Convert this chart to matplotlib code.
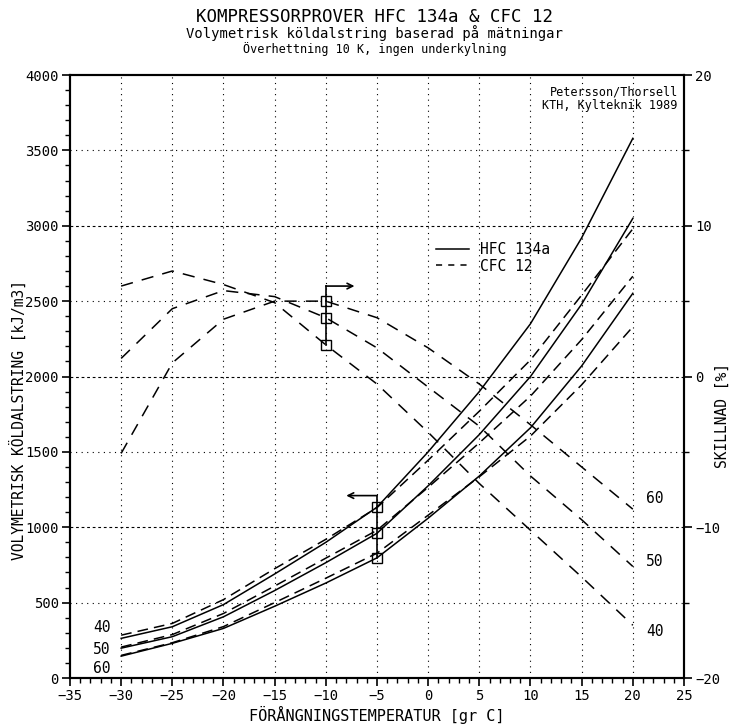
import matplotlib
matplotlib.use("Agg")
import matplotlib.pyplot as plt
from matplotlib.lines import Line2D
from matplotlib.ticker import MultipleLocator

plt.rcParams['font.family'] = ['DejaVu Sans Mono', 'DejaVu Sans']

# evaporation temperature [gr C]
temp = [-30, -25, -20, -15, -10, -5, 0, 5, 10, 15, 20]

# volumetric capacity [kJ/m3], condensing temp 40/50/60
hfc_40 = [263, 340, 487, 690, 900, 1133, 1500, 1900, 2350, 2920, 3580]
hfc_50 = [198, 274, 406, 580, 765, 960, 1275, 1615, 2000, 2480, 3049]
hfc_60 = [145, 230, 329, 476, 630, 797, 1060, 1340, 1660, 2070, 2552]
cfc_40 = [284, 362, 520, 725, 920, 1130, 1445, 1770, 2110, 2540, 2980]
cfc_50 = [205, 288, 428, 610, 795, 980, 1265, 1560, 1870, 2245, 2665]
cfc_60 = [150, 234, 341, 500, 662, 828, 1080, 1335, 1605, 1945, 2330]

# difference [%] (right axis)
diff_40 = [6.0, 7.0, 6.1, 4.9, 2.1, -0.5, -3.7, -7.1, -10.2, -13.3, -16.5]
diff_50 = [1.2, 4.5, 5.7, 5.3, 3.9, 1.9, -0.7, -3.3, -6.6, -9.5, -12.6]
diff_60 = [-5.1, 0.9, 3.8, 5.0, 5.0, 3.9, 1.9, -0.5, -3.2, -6.0, -8.8]

fig = plt.figure(figsize=(7.35, 7.27), dpi=100)
ax = fig.add_axes([0.0952, 0.0674, 0.8354, 0.8294])
ax.set_xlim(-35, 25)
ax.set_ylim(0, 4000)
ax2 = ax.twinx()
ax2.set_ylim(-20, 20)

# grid
for x in range(-30, 25, 5):
    ax.axvline(x, color='k', lw=0.8, ls=(0, (1, 4)), zorder=0)
for v in (500, 1500, 2500, 3500):
    ax.axhline(v, color='k', lw=0.8, ls=(0, (1, 4)), zorder=0)
for v in (1000, 2000, 3000):
    ax.axhline(v, color='k', lw=0.8, ls=(0, (2.5, 2.5)), zorder=0)

dash = (0, (7, 4))
for h, c in ((hfc_40, cfc_40), (hfc_50, cfc_50), (hfc_60, cfc_60)):
    ax.plot(temp, h, color='k', lw=1.1)
    ax.plot(temp, c, color='k', lw=1.1, ls=dash)

for d in (diff_40, diff_50, diff_60):
    ax2.plot(temp, d, color='k', lw=1.1, ls=(0, (8, 6)))

# measuring point markers
i5 = temp.index(-5)
ys = [hfc_40[i5], hfc_50[i5], hfc_60[i5]]
ax.plot([-5] * 3, ys, color='k', lw=1.2, marker='s', ms=7, mfc='none', mec='k')
ax.plot([-5, -5], [ys[0], 1210], color='k', lw=1.2)
ax.annotate('', xy=(-8.0, 1210), xytext=(-5, 1210),
            arrowprops=dict(arrowstyle='->', lw=1.2, color='k', shrinkA=0, shrinkB=0))

i10 = temp.index(-10)
ds = [diff_60[i10], diff_50[i10], diff_40[i10]]
ax2.plot([-10] * 3, ds, color='k', lw=1.2, marker='s', ms=7, mfc='none', mec='k')
ax2.plot([-10, -10], [ds[0], 6.0], color='k', lw=1.2)
ax2.annotate('', xy=(-7.2, 6.0), xytext=(-10, 6.0),
             arrowprops=dict(arrowstyle='->', lw=1.2, color='k', shrinkA=0, shrinkB=0))

# labels of condensing temperature
for t, v in (('40', 333), ('50', 190), ('60', 64)):
    ax.text(-31.9, v, t, fontsize=10.5, ha='center', va='center')
for t, v in (('60', -8.1), ('50', -12.3), ('40', -16.9)):
    ax2.text(21.3, v, t, fontsize=10.5, ha='left', va='center')

handles = [Line2D([], [], color='k', lw=1.1),
           Line2D([], [], color='k', lw=1.1, ls=(0, (4, 4)))]
ax.legend(handles, ['HFC 134a', 'CFC 12'], loc='upper left', bbox_to_anchor=(0.585, 0.735),
          frameon=False, fontsize=10.5, handlelength=2.2, labelspacing=0.1, borderpad=0)

ax.text(0.99, 0.982, 'Petersson/Thorsell\nKTH, Kylteknik 1989', transform=ax.transAxes,
        ha='right', va='top', fontsize=8.5, multialignment='right', linespacing=1.0)

# ticks
ax.xaxis.set_major_locator(MultipleLocator(5))
ax.xaxis.set_minor_locator(MultipleLocator(1))
ax.yaxis.set_major_locator(MultipleLocator(500))
ax.yaxis.set_minor_locator(MultipleLocator(100))
ax2.yaxis.set_major_locator(MultipleLocator(10))
ax2.yaxis.set_minor_locator(MultipleLocator(5))
for a in (ax, ax2):
    a.tick_params(which='major', direction='out', length=6, width=1.2, labelsize=10, pad=2)
    a.tick_params(which='minor', direction='out', length=3.5, width=1.0)
    for s in a.spines.values():
        s.set_linewidth(1.5)

fig.text(0.51, 0.977, 'KOMPRESSORPROVER HFC 134a & CFC 12', ha='center', va='center', fontsize=12.5)
fig.text(0.51, 0.955, 'Volymetrisk köldalstring baserad på mätningar', ha='center', va='center', fontsize=10)
fig.text(0.51, 0.932, 'Överhettning 10 K, ingen underkylning', ha='center', va='center', fontsize=8.5)

fig.text(18 / 735, 1 - 420 / 727, 'VOLYMETRISK KÖLDALSTRING [kJ/m3]', rotation=90,
         ha='center', va='center', fontsize=10.5)
fig.text(722 / 735, 1 - 415 / 727, 'SKILLNAD [%]', rotation=90,
         ha='center', va='center', fontsize=10.5)
fig.text(377 / 735, 1 - 715 / 727, 'FÖRÅNGNINGSTEMPERATUR [gr C]', ha='center', va='center',
         fontsize=11)

fig.savefig('out.png', dpi=100)
